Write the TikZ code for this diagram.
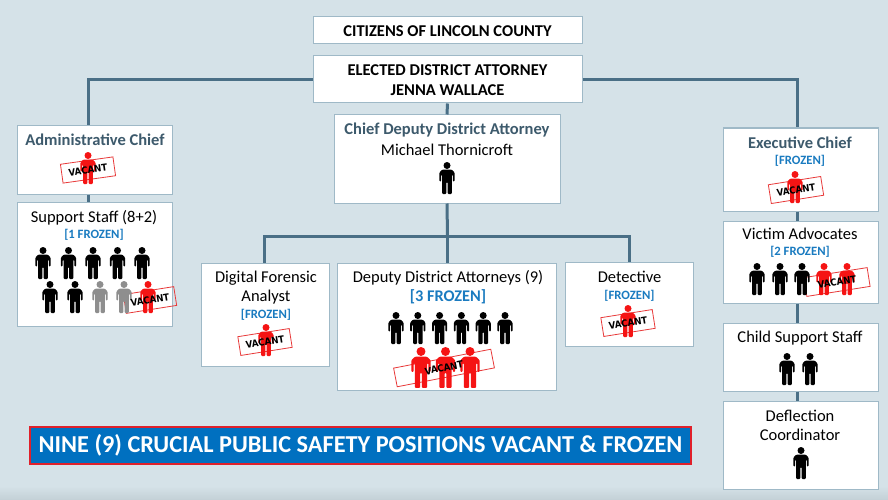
\documentclass[tikz,border=0pt]{standalone}
\usepackage{fontspec}
\setmainfont{Carlito}
\newfontfamily\stampfont{DejaVu Sans Condensed Bold}
\definecolor{bg}{HTML}{D5E2E8}
\definecolor{bgdark}{HTML}{C3D0D6}
\definecolor{connline}{HTML}{4A6F86}
\definecolor{boxline}{HTML}{9FB9C7}
\definecolor{slate}{HTML}{3D5A6C}
\definecolor{frozen}{HTML}{1A7BC0}
\definecolor{pred}{HTML}{F51414}
\definecolor{pgray}{HTML}{8E8E8E}
\definecolor{stampred}{HTML}{E83A3A}
\definecolor{bannerblue}{HTML}{0070C0}
\definecolor{bannerred}{HTML}{E0202A}
\begin{document}
\begin{tikzpicture}[x=1pt,y=-1pt,
  box/.style={draw=boxline, line width=1pt, fill=white, inner sep=0pt},
  conn/.style={draw=connline, line width=3pt},
  txt/.style={anchor=base, inner sep=0pt, font=\fontsize{16.5}{18}\selectfont},
  btxt/.style={anchor=base, inner sep=0pt, font=\fontsize{16.5}{18}\selectfont\bfseries},
  ttl/.style={anchor=base, inner sep=0pt, font=\fontsize{16.5}{18}\selectfont\bfseries, text=slate},
  frz/.style={anchor=base, inner sep=0pt, font=\fontsize{12.7}{14}\selectfont\bfseries, text=frozen},
  stamprect/.style={draw=stampred, line width=0.8pt, minimum height=19pt, inner sep=0pt},
  stamptxt/.style={inner sep=0pt, font=\stampfont\fontsize{9.6}{10}\selectfont},
  blk/.style={fill=black}, rd/.style={fill=pred}, gr/.style={fill=pgray},
  person/.pic={
    \fill[pic actions] (0,3.5) circle[radius=3.5];
    \fill[pic actions, rounded corners=1pt] (-4.8,7.6) -- (4.8,7.6) -- (7.6,10.4) -- (7.6,19.5) -- (5.8,19.5) -- (5.8,12.6) -- (4.8,12.6) -- (4.8,32) -- (0.6,32) -- (0.6,20) -- (-0.6,20) -- (-0.6,32) -- (-4.8,32) -- (-4.8,12.6) -- (-5.8,12.6) -- (-5.8,19.5) -- (-7.6,19.5) -- (-7.6,10.4) -- cycle;
  }
]
% background
\fill[bg] (0,0) rectangle (888,500);
\shade[top color=bg, bottom color=bgdark] (0,486) rectangle (888,500);
\path[use as bounding box] (0,0) rectangle (888,500);

% boxes
\node[box, minimum width=269pt, minimum height=27pt] (cit) at (447.5,30.5) {};
\node[box, minimum width=269pt, minimum height=47pt] (da) at (447.5,79.5) {};
\node[box, minimum width=226pt, minimum height=88pt] (cdda) at (447,159) {};
\node[box, minimum width=155pt, minimum height=68pt] (admin) at (94.5,160) {};
\node[box, minimum width=155pt, minimum height=124pt] (support) at (94.5,264) {};
\node[box, minimum width=128pt, minimum height=103pt] (dfa) at (265,314.5) {};
\node[box, minimum width=219pt, minimum height=127pt] (ddas) at (446.5,326.5) {};
\node[box, minimum width=128pt, minimum height=84pt] (det) at (629,304) {};
\node[box, minimum width=155pt, minimum height=83pt] (exec) at (800.5,169.5) {};
\node[box, minimum width=155pt, minimum height=82pt] (va) at (800.5,262) {};
\node[box, minimum width=155pt, minimum height=68pt] (css) at (800.5,357) {};
\node[box, minimum width=155pt, minimum height=88pt] (dc) at (800.5,445) {};

% connectors
\coordinate (lx) at (88,0);
\coordinate (rx) at (797,0);
\coordinate (dx) at (264,0);
\coordinate (bus) at (447.5,236);
\draw[conn] (da.west) -| (admin.north -| lx);
\draw[conn] (admin.south -| lx) -- (support.north -| lx);
\draw[conn] (da.east) -| (exec.north -| rx);
\draw[conn] (exec.south -| rx) -- (va.north -| rx);
\draw[conn] (va.south -| rx) -- (css.north -| rx);
\draw[conn] (css.south -| rx) -- (dc.north -| rx);
\draw[conn] (da.south) -- (cdda.north);
\draw[conn] (cdda.south) -- (bus);
\draw[conn] (dfa.north -| dx) |- (bus) -| (det.north);
\draw[conn] (bus) -- (ddas.north -| bus);

% texts
\node[btxt] (tcit) at (447.5,36.5) {CITIZENS OF LINCOLN COUNTY};
\node[btxt] (tda1) at (447.5,75.5) {ELECTED DISTRICT ATTORNEY};
\node[btxt] (tda2) at (447.5,95.5) {JENNA WALLACE};
\node[ttl] (tcd1) at (447,135) {Chief Deputy District Attorney};
\node[txt] (tcd2) at (447,155) {Michael Thornicroft};
\node[ttl] (tadm) at (95,146) {Administrative Chief};
\node[txt] (tsup) at (94,222) {Support Staff (8+2)};
\node[frz] (fsup) at (94,238.5) {[1 FROZEN]};
\node[txt] (tdf1) at (266,282) {Digital Forensic};
\node[txt] (tdf2) at (266,301) {Analyst};
\node[frz] (fdf) at (266,318.5) {[FROZEN]};
\node[txt] (tdd) at (448,282) {Deputy District Attorneys (9)};
\node[frz, font=\fontsize{16.3}{18}\selectfont\bfseries] (fdd) at (448,301.5) {[3 FROZEN]};
\node[txt] (tdet) at (629.5,282) {Detective};
\node[frz] (fdet) at (629.5,299) {[FROZEN]};
\node[ttl] (texe) at (800,148) {Executive Chief};
\node[frz] (fexe) at (800,164.3) {[FROZEN]};
\node[txt] (tva) at (800,239.3) {Victim Advocates};
\node[frz] (fva) at (800,255.3) {[2 FROZEN]};
\node[txt] (tcss) at (800,342.7) {Child Support Staff};
\node[txt] (tdc1) at (800,421) {Deflection};
\node[txt] (tdc2) at (800,440.7) {Coordinator};

% stamp rectangles
\node[stamprect, minimum width=53pt, rotate=8] (s1) at (88,170) {};
\node[stamprect, minimum width=51pt, rotate=9] (s2) at (150,300) {};
\node[stamprect, minimum width=52pt, rotate=9] (s3) at (265,342) {};
\node[stamprect, minimum width=52pt, rotate=9] (s4) at (628,323) {};
\node[stamprect, minimum width=53pt, rotate=9] (s5) at (796,190) {};
\node[stamprect, minimum width=64pt, rotate=9] (s6) at (837,282) {};
\node[stamprect, minimum width=99pt, rotate=11] (s7) at (444,368) {};

% persons
\pic[blk] at (447,162) {person};
\pic[rd] at (88,152) {person};
\foreach \px in {43,68.5,93,117.5,142} \pic[blk] at (\px,247) {person};
\pic[blk] at (50,281) {person};
\pic[blk] at (75,281) {person};
\pic[gr] at (100,281) {person};
\pic[gr] at (124,281) {person};
\pic[rd] at (148,281) {person};
\pic[rd] at (266,324) {person};
\foreach \px in {396,417.8,439.6,461.4,483.2,505} \pic[blk] at (\px,312) {person};
\foreach \px in {421,445.5,470} \pic[rd, scale=1.28] at (\px,347) {person};
\pic[rd] at (628,305) {person};
\pic[rd] at (795,171) {person};
\foreach \px in {757,780,802} \pic[blk] at (\px,263) {person};
\foreach \px in {824,847} \pic[rd] at (\px,263) {person};
\pic[blk] at (787,353) {person};
\pic[blk] at (810,353) {person};
\pic[blk] at (801,447) {person};

% stamp texts
\node[stamptxt, rotate=8] (v1) at (s1.center) {VACANT};
\node[stamptxt, rotate=9] (v2) at (s2.center) {VACANT};
\node[stamptxt, rotate=9] (v3) at (s3.center) {VACANT};
\node[stamptxt, rotate=9] (v4) at (s4.center) {VACANT};
\node[stamptxt, rotate=9] (v5) at (s5.center) {VACANT};
\node[stamptxt, rotate=9] (v6) at (s6.center) {VACANT};
\node[stamptxt, rotate=11] (v7) at (s7.center) {VACANT};

% banner
\node[draw=bannerred, line width=2pt, fill=bannerblue, minimum width=661pt, minimum height=37pt, inner sep=0pt, text=white, font=\fontsize{24.3}{26}\selectfont\bfseries] (ban) at (360.5,445.5) {NINE (9) CRUCIAL PUBLIC SAFETY POSITIONS VACANT \& FROZEN};
\end{tikzpicture}
\end{document}
